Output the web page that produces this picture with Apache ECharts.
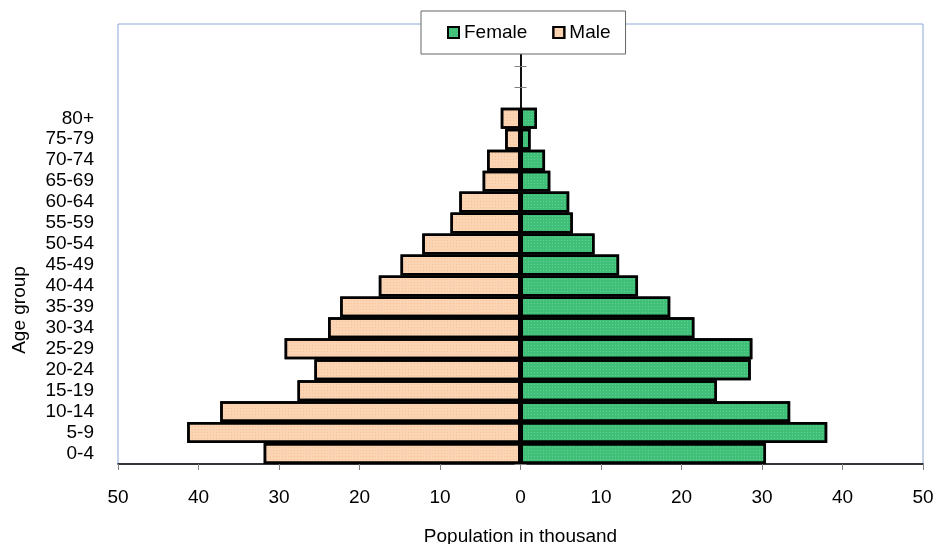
<!DOCTYPE html>
<html>
<head>
<meta charset="utf-8">
<script src="https://cdn.jsdelivr.net/npm/echarts@6/dist/echarts.min.js"></script>
<style>html,body{margin:0;padding:0;background:#fff;}#c{width:937px;height:544px;}</style>
</head>
<body>
<div id="c"></div>
<script>
const ageGroups = ['0-4','5-9','10-14','15-19','20-24','25-29','30-34','35-39','40-44','45-49','50-54','55-59','60-64','65-69','70-74','75-79','80+'];
const male = [31.9, 41.4, 37.3, 27.7, 25.6, 29.3, 23.9, 22.4, 17.6, 14.9, 12.2, 8.7, 7.6, 4.7, 4.15, 1.9, 2.45];
const female = [30.5, 38.1, 33.5, 24.4, 28.6, 28.8, 21.6, 18.6, 14.6, 12.25, 9.2, 6.5, 6.05, 3.7, 3.05, 1.25, 2.05];
const xTicks = [-50, -40, -30, -20, -10, 0, 10, 20, 30, 40, 50];

const cats = ageGroups.concat([' ', '  ', '   ', '    ']);
const FONT = 'Liberation Sans, Arial, sans-serif';
const FS = 19;

const chart = echarts.init(document.getElementById('c'), null, {renderer: 'canvas'});
const baseCatAxis = {
  type: 'category', data: cats, position: 'left', boundaryGap: true
};
chart.setOption({
  animation: false,
  backgroundColor: '#fff',
  textStyle: {fontFamily: FONT},
  grid: {left: 118, right: 14, top: 24, bottom: 80, containLabel: false, outerBoundsMode: 'none',
    show: true, borderColor: '#8caad8', borderWidth: 1, backgroundColor: 'transparent'},
  legend: {
    data: ['Female', 'Male'], left: 421, top: 11, orient: 'horizontal', icon: 'rect',
    itemWidth: 11, itemHeight: 11, itemGap: 25,
    padding: [12, 15, 12, 26], borderColor: '#666', borderWidth: 1, backgroundColor: '#fff',
    textStyle: {fontSize: FS, color: '#000', fontFamily: FONT}, z: 10
  },
  xAxis: {
    type: 'value', min: xTicks[0], max: xTicks[xTicks.length - 1], interval: 10,
    name: 'Population in thousand', nameLocation: 'middle', nameGap: 63,
    nameTextStyle: {fontSize: FS, color: '#000', fontFamily: FONT},
    axisLine: {show: true, onZero: false, lineStyle: {color: '#000', width: 1.5}},
    axisTick: {show: true, length: 6, lineStyle: {color: '#808080'}},
    axisLabel: {fontSize: FS, color: '#000', margin: 24, fontFamily: FONT, formatter: v => String(Math.abs(v))},
    splitLine: {show: false}
  },
  yAxis: [
    Object.assign({}, baseCatAxis, {
      axisLine: {show: false, onZero: false},
      axisTick: {show: false},
      axisLabel: {fontSize: FS, color: '#000', margin: 24, interval: 0, fontFamily: FONT}
    }),
    Object.assign({}, baseCatAxis, {
      axisLine: {show: true, onZero: true, onZeroAxisIndex: 0, lineStyle: {color: '#000', width: 1.5}},
      axisTick: {show: true, inside: true, length: 6, lineStyle: {color: '#808080'}},
      axisLabel: {show: false}
    }),
    Object.assign({}, baseCatAxis, {
      axisLine: {show: true, onZero: true, onZeroAxisIndex: 0, lineStyle: {color: '#000', width: 1.5}},
      axisTick: {show: true, inside: false, length: 6, lineStyle: {color: '#808080'}},
      axisLabel: {show: false}
    })
  ],
  graphic: [{
    type: 'text', x: 20, y: 310, rotation: Math.PI / 2,
    style: {text: 'Age group', font: FS + 'px ' + FONT, fill: '#000', align: 'center', verticalAlign: 'middle'}
  }],
  series: [
    {name: 'Female', type: 'bar', data: female, barCategoryGap: '0%', barGap: '-100%',
      itemStyle: {color: '#3fbf78', borderColor: '#000', borderWidth: 2.5,
        decal: {symbol: 'rect', symbolSize: 1, color: 'rgba(130,222,168,0.55)', dashArrayX: [1, 2], dashArrayY: [1, 2]}}},
    {name: 'Male', type: 'bar', data: male.map(v => -v), barCategoryGap: '0%', barGap: '-100%',
      itemStyle: {color: '#fbd4b4', borderColor: '#000', borderWidth: 2.5,
        decal: {symbol: 'rect', symbolSize: 1, color: 'rgba(240,160,100,0.35)', dashArrayX: [1, 2], dashArrayY: [1, 2]}}}
  ]
});
</script>
</body>
</html>
